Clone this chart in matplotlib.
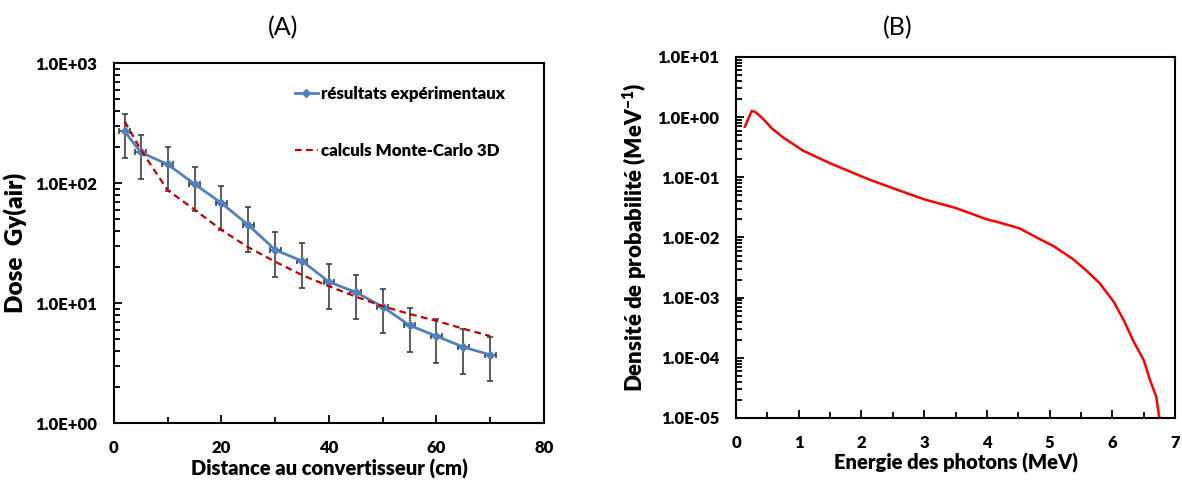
import numpy as np
import matplotlib.pyplot as plt
from matplotlib.ticker import LogLocator, FuncFormatter, MultipleLocator, NullFormatter

plt.rcParams['font.family'] = ['Lato', 'DejaVu Sans']
plt.rcParams['mathtext.fontset'] = 'custom'
plt.rcParams['mathtext.rm'] = 'Lato'
plt.rcParams['mathtext.bf'] = 'Lato:heavy'

# (A) dose vs distance
distance = [2, 5, 10, 15, 20, 25, 30, 35, 40, 45, 50, 55, 60, 65, 70]
dose_exp = [269, 180, 143, 98, 68, 44.7, 27.7, 22.4, 15.0, 12.3, 9.3, 6.5, 5.3, 4.3, 3.7]
dose_mc = [326, 189, 87, 60, 40.6, 29.1, 22.1, 17.1, 13.8, 11.3, 9.4, 8.1, 7.1, 6.1, 5.3]
rel_err = 0.4
dist_err = 1.0

# (B) photon spectrum
energy = [0.14, 0.25, 0.30, 0.38, 0.46, 0.57, 0.75, 1.07, 1.50, 2.11, 2.5, 3.0, 3.5,
          4.0, 4.21, 4.52, 4.85, 5.06, 5.37, 5.59, 5.80, 6.02, 6.18, 6.34, 6.50,
          6.60, 6.70, 6.75]
density = [0.695, 1.27, 1.23, 1.05, 0.87, 0.65, 0.46, 0.277, 0.171, 0.093, 0.066,
           0.043, 0.031, 0.020, 0.0176, 0.0142, 0.0093, 0.0072, 0.0044, 0.0028,
           0.00173, 0.00086, 4.26e-4, 1.86e-4, 9.2e-5, 4.3e-5, 2.26e-5, 1.0e-5]

W = 'heavy'


def sci(v, pos):
    return f"{v:.1E}"


fig = plt.figure(figsize=(11.82, 4.83), dpi=100)
ax1 = fig.add_axes([0.0964, 0.1242, 0.3638, 0.7453])
ax2 = fig.add_axes([0.6227, 0.1346, 0.3714, 0.7474])

# left panel
d = np.array(dose_exp)
ax1.errorbar(distance, dose_exp, yerr=rel_err * d, xerr=dist_err, fmt='none',
             ecolor='#404040', elinewidth=1.2, capsize=2.5, capthick=1.2, zorder=2)
ax1.plot(distance, dose_exp, color='#4F81BD', lw=2, marker='D', ms=4.5,
         label='résultats expérimentaux', zorder=3)
ax1.plot(distance, dose_mc, color='#C00000', lw=1.6, ls=(0, (3, 2)),
         label='calculs Monte-Carlo 3D', zorder=4)
ax1.set_yscale('log')
ax1.set_ylim(1, 1000)
ax1.set_xlim(0, 80)
ax1.xaxis.set_major_locator(MultipleLocator(20))
ax1.xaxis.set_minor_locator(MultipleLocator(10))
ax1.set_xlabel('Distance au convertisseur (cm)', fontsize=14.5, fontweight=W, labelpad=2)
ax1.set_ylabel('Dose  Gy(air)', fontsize=17.5, fontweight=W, labelpad=6)
ax1.legend(loc='upper left', bbox_to_anchor=(0.421, 0.935), frameon=False,
           prop={'weight': W, 'size': 12.2}, handlelength=1.35, handletextpad=0.2,
           labelspacing=2.4, borderaxespad=0, borderpad=0)

# right panel
ax2.plot(energy, density, color='#FF0000', lw=1.8)
ax2.set_yscale('log')
ax2.set_ylim(1e-5, 10)
ax2.set_xlim(0, 7)
ax2.xaxis.set_major_locator(MultipleLocator(1))
ax2.xaxis.set_minor_locator(MultipleLocator(0.5))
ax2.set_xlabel('Energie des photons (MeV)', fontsize=14.5, fontweight=W, labelpad=2)
ax2.set_ylabel('Densité de probabilité (MeV$^{\\mathbf{-1}}$)', fontsize=16,
               fontweight=W, labelpad=6)

fig.text(283 / 1182, 1 - 28 / 483, '(A)', fontsize=18, ha='center', va='center')
fig.text(898 / 1182, 1 - 28 / 483, '(B)', fontsize=18, ha='center', va='center')

for ax in (ax1, ax2):
    ax.yaxis.set_major_locator(LogLocator(base=10, numticks=10))
    ax.yaxis.set_minor_locator(LogLocator(base=10, subs=np.arange(2, 10), numticks=20))
    ax.yaxis.set_major_formatter(FuncFormatter(sci))
    ax.yaxis.set_minor_formatter(NullFormatter())
    ax.tick_params(which='both', direction='in', width=1.3)
    ax.tick_params(which='major', length=6, labelsize=12)
    ax.tick_params(which='minor', length=4)
    ax.tick_params(axis='x', which='major', pad=12)
    ax.tick_params(axis='y', which='major', pad=12)
    for lbl in ax.get_xticklabels() + ax.get_yticklabels():
        lbl.set_fontweight(W)
    for sp in ax.spines.values():
        sp.set_linewidth(1.5)

fig.savefig('out.png', dpi=100)
